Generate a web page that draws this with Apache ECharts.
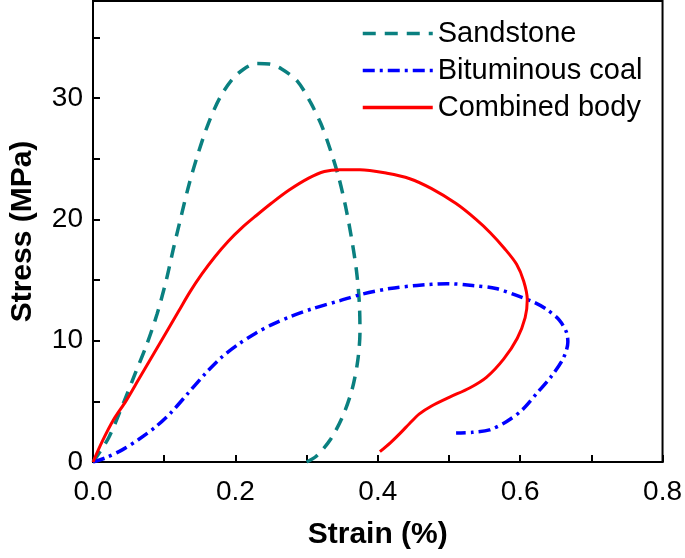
<!DOCTYPE html>
<html>
<head>
<meta charset="utf-8">
<script src="https://cdn.jsdelivr.net/npm/echarts@6/dist/echarts.min.js"></script>
<style>
html,body{margin:0;padding:0;background:#fff;}
#chart{width:685px;height:558px;}
</style>
</head>
<body>
<div id="chart"></div>
<script>
// Series names
var seriesNames = ['Sandstone', 'Bituminous coal', 'Combined body'];

// Sandstone: [strain %, stress MPa]
var sandstone = [
  [0,0],[0.022,2.0],[0.043,4.9],[0.060,7.4],[0.075,9.6],[0.090,12.2],[0.103,15.0],
  [0.113,17.6],[0.124,20.3],[0.135,22.9],[0.148,25.5],[0.162,27.9],[0.178,30.0],
  [0.195,31.5],[0.212,32.4],[0.230,32.85],[0.248,32.8],[0.265,32.4],[0.287,31.4],
  [0.305,29.7],[0.320,27.9],[0.333,25.8],[0.345,23.5],[0.355,21.0],[0.363,18.5],
  [0.370,15.8],[0.374,13.2],[0.375,10.8],[0.372,8.4],[0.364,6.0],[0.351,3.8],
  [0.334,1.9],[0.314,0.5],[0.300,0]
];

// Bituminous coal
var coal = [
  [0,0],[0.018,0.35],[0.041,1.0],[0.064,1.85],[0.088,2.9],[0.110,4.1],[0.134,5.7],
  [0.158,7.3],[0.180,8.6],[0.204,9.7],[0.228,10.6],[0.252,11.35],[0.278,12.0],
  [0.309,12.65],[0.347,13.3],[0.379,13.85],[0.417,14.3],[0.455,14.55],[0.497,14.7],
  [0.533,14.55],[0.566,14.3],[0.594,13.75],[0.622,13.1],[0.638,12.55],[0.655,11.7],
  [0.665,10.7],[0.667,9.9],[0.661,8.6],[0.643,7.0],[0.624,5.7],[0.603,4.3],
  [0.580,3.3],[0.557,2.65],[0.533,2.45],[0.510,2.4]
];

// Combined body
var combined = [
  [0,0],[0.013,1.7],[0.029,3.5],[0.046,5.0],[0.064,6.8],[0.083,8.7],[0.102,10.6],
  [0.120,12.4],[0.136,14.0],[0.153,15.5],[0.171,16.9],[0.190,18.2],[0.209,19.3],
  [0.229,20.3],[0.251,21.35],[0.275,22.4],[0.303,23.4],[0.325,23.95],[0.347,24.1],
  [0.375,24.1],[0.413,23.8],[0.445,23.35],[0.475,22.55],[0.510,21.3],[0.538,20.0],
  [0.558,18.9],[0.578,17.6],[0.595,16.3],[0.605,14.9],[0.610,13.4],[0.607,11.9],
  [0.596,10.2],[0.577,8.5],[0.553,7.0],[0.529,6.1],[0.501,5.35],[0.475,4.6],
  [0.458,3.95],[0.445,3.2],[0.432,2.4],[0.418,1.6],[0.403,0.85]
];

// Axis ticks and labels
var xLabelValues = [0, 0.2, 0.4, 0.6, 0.8];
var xTickValues = [0, 0.1, 0.2, 0.3, 0.4, 0.5, 0.6, 0.7, 0.8];
var yLabelValues = [0, 10, 20, 30];
var yTickValues = [0, 5, 10, 15, 20, 25, 30, 35];

var chart = echarts.init(document.getElementById('chart'), null, {renderer: 'canvas'});
var font = 'Liberation Sans, Arial, sans-serif';

var option = {
  animation: false,
  backgroundColor: '#fff',
  grid: {
    left: 92, right: 21, top: 1, bottom: 96,
    show: true, borderColor: '#000', borderWidth: 2, backgroundColor: 'transparent'
  },
  legend: {
    data: seriesNames,
    orient: 'vertical',
    left: 356, top: 14,
    itemWidth: 70, itemHeight: 14, itemGap: 8,
    itemStyle: {opacity: 0},
    lineStyle: {width: 3.5},
    textStyle: {fontFamily: font, fontSize: 29, color: '#000'}
  },
  xAxis: {
    type: 'value', min: 0, max: 0.8,
    name: 'Strain (%)', nameLocation: 'middle', nameGap: 58,
    nameTextStyle: {fontFamily: font, fontSize: 30, fontWeight: 'bold', color: '#000'},
    axisLine: {show: true, onZero: false, lineStyle: {color: '#000', width: 2}},
    axisTick: {show: true, inside: true, length: 7, customValues: xTickValues, lineStyle: {color: '#000', width: 2}},
    axisLabel: {show: true, margin: 16, customValues: xLabelValues, color: '#000', fontFamily: font, fontSize: 28,
      formatter: function (v) { return v.toFixed(1); }},
    splitLine: {show: false}
  },
  yAxis: {
    type: 'value', min: 0, max: 38,
    name: 'Stress (MPa)', nameLocation: 'middle', nameGap: 55,
    nameTextStyle: {fontFamily: font, fontSize: 30, fontWeight: 'bold', color: '#000'},
    axisLine: {show: true, onZero: false, lineStyle: {color: '#000', width: 2}},
    axisTick: {show: true, inside: true, length: 7, customValues: yTickValues, lineStyle: {color: '#000', width: 2}},
    axisLabel: {show: true, margin: 10, customValues: yLabelValues, color: '#000', fontFamily: font, fontSize: 28},
    splitLine: {show: false}
  },
  series: [
    {
      name: seriesNames[0], type: 'line', data: sandstone, smooth: 0.3, symbol: 'none',
      lineStyle: {color: '#0A8080', width: 3.5, type: [13, 9]},
      itemStyle: {color: '#0A8080'}
    },
    {
      name: seriesNames[1], type: 'line', data: coal, smooth: 0.3, symbol: 'none',
      lineStyle: {color: '#0000FF', width: 3.5, type: [12, 5, 3, 5]},
      itemStyle: {color: '#0000FF'}
    },
    {
      name: seriesNames[2], type: 'line', data: combined, smooth: 0.3, symbol: 'none',
      lineStyle: {color: '#FF0000', width: 3},
      itemStyle: {color: '#FF0000'}
    }
  ]
};
chart.setOption(option);
</script>
</body>
</html>
